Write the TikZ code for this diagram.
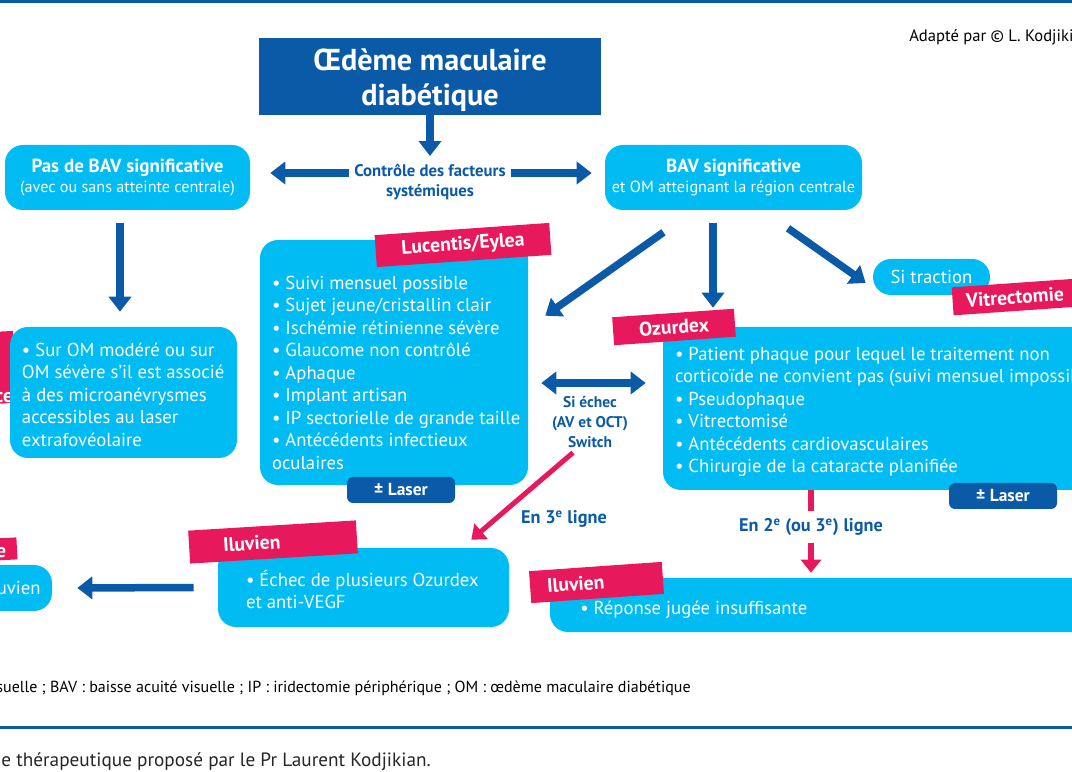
\documentclass[tikz,border=0pt]{standalone}
\usepackage{fontspec}
\setmainfont{PT Sans}
\usetikzlibrary{arrows.meta,positioning}
\definecolor{ciel}{HTML}{00BCF2}
\definecolor{marine}{HTML}{0A5AA8}
\definecolor{rose}{HTML}{E8185C}
\newlength\px \setlength\px{0.25mm}

\begin{document}
\begin{tikzpicture}[x=1\px, y=-1\px,
    box/.style={fill=ciel, rounded corners=18\px, inner sep=0pt, text=white},
    tag/.style={fill=rose, text=white, font=\bfseries\fontsize{14}{16}\selectfont, inner sep=0pt},
    lasertag/.style={fill=marine, text=white, font=\bfseries\fontsize{12.4}{14}\selectfont,
        minimum width=108\px, minimum height=26\px, rounded corners=6\px, inner sep=0pt},
    liste/.style={text=white, align=left, font=\fontsize{13.3}{16}\selectfont, inner sep=0pt, anchor=north west},
    etiq/.style={text=marine, align=center, font=\bfseries\fontsize{11.5}{14}\selectfont, inner sep=0pt},
    fleche/.style={draw=marine, line width=7.5\px, -{Triangle[width=5.5mm,length=3.75mm]}},
    rosefleche/.style={draw=rose, line width=5\px, -{Triangle[width=5mm,length=3.25mm]}},
]
    \useasboundingbox (0,0) rectangle (1072,772);
    \clip (0,0) rectangle (1072,772);

    % filets bleus
    \draw[marine, line width=3\px] (0,1.5) -- (1072,1.5);
    \draw[marine, line width=3\px] (0,727) -- (1072,727);

    \node[anchor=west, inner sep=0pt, font=\fontsize{11.8}{14}\selectfont] (credit) at (909,37) {Adapté par © L. Kodjikian};

    % haut
    \node[fill=marine, minimum width=342\px, minimum height=77\px] (titre) at (430,76.5) {};
    \node[text=white, align=center, inner sep=0pt, font=\bfseries\fontsize{21.5}{25}\selectfont]
        (titretxt) at ([yshift=-4\px]titre.center) {Œdème maculaire\\diabétique};
    \node[etiq, font=\bfseries\fontsize{11.9}{14}\selectfont] (ctrl) at (430,182) {Contrôle des facteurs\\systémiques};
    \node[box, minimum width=245\px, minimum height=65\px, align=center, font=\fontsize{11.5}{14}\selectfont]
        (pasbav) at (127.5,177.5) {{\bfseries\fontsize{13.5}{14}\selectfont Pas de BAV significative}\\(avec ou sans atteinte centrale)};
    \node[box, minimum width=257\px, minimum height=65\px, align=center, font=\fontsize{11.5}{14}\selectfont]
        (bav) at (733.5,177.5) {{\bfseries\fontsize{13.5}{14}\selectfont BAV significative}\\et OM atteignant la région centrale};

    \draw[fleche, shorten >=2mm] (titre.south) -- (ctrl.north);
    \draw[fleche, shorten <=1.25mm, shorten >=5mm] (ctrl.west |- 0,173) -- (pasbav.east |- 0,173);
    \draw[fleche, shorten <=1.25mm, shorten >=3.25mm] (ctrl.east |- 0,173) -- (bav.west |- 0,173);

    % gauche
    \node[fill=rose, minimum width=120\px, minimum height=72\px, rotate=3, inner sep=0pt] (tagce) at (-45,370) {};
    \node[text=white, font=\bfseries\fontsize{14}{16}\selectfont, inner sep=0pt] (tagcetxt) at (4,398) {ce};
    \node[box, minimum width=227\px, minimum height=131\px] (omod) at (123.5,392.5) {};
    \node[liste] (omodtxt) at ([xshift=12\px, yshift=-16\px]omod.north west)
        {• Sur OM modéré ou sur\\OM sévère s’il est associé\\à des microanévrysmes\\accessibles au laser\\extrafovéolaire};
    \draw[fleche, shorten <=3.25mm, shorten >=3.75mm] (pasbav.south -| 120,0) -- (omod.north -| 120,0);

    % Lucentis
    \node[box, minimum width=268\px, minimum height=245\px] (luc) at (394,362.5) {};
    \node[tag, minimum width=175\px, minimum height=32\px, rotate=4] (tagluc) at (463,245) {Lucentis/Eylea};
    \node[liste] (luctxt) at ([xshift=12\px, yshift=-36\px]luc.north west)
        {• Suivi mensuel possible\\• Sujet jeune/cristallin clair\\• Ischémie rétinienne sévère\\• Glaucome non contrôlé\\• Aphaque\\• Implant artisan\\• IP sectorielle de grande taille\\• Antécédents infectieux\\oculaires};
    \node[lasertag] (laserluc) at (401,490) {± Laser};

    % Ozurdex
    \node[box, minimum width=450\px, minimum height=163\px] (ozu) at (888,408.5) {};
    \node[tag, minimum width=122\px, minimum height=28\px, rotate=4] (tagozu) at (674,327) {Ozurdex};
    \node[liste] (ozutxt) at ([xshift=12\px, yshift=-20\px]ozu.north west)
        {• Patient phaque pour lequel le traitement non\\corticoïde ne convient pas (suivi mensuel impossible)\\• Pseudophaque\\• Vitrectomisé\\• Antécédents cardiovasculaires\\• Chirurgie de la cataracte planifiée};
    \node[lasertag] (laserozu) at (1003,496) {± Laser};

    % traction
    \node[box, minimum width=117\px, minimum height=36\px, font=\fontsize{13.3}{15}\selectfont] (traction) at (931.5,277) {Si traction};
    \node[tag, minimum width=125\px, minimum height=28\px, rotate=4] (tagvit) at (1015,297) {Vitrectomie};

    \draw[fleche] ([xshift=-70\px, yshift=-22\px]bav.south) -- ([xshift=17\px, yshift=-76\px]luc.north east);
    \draw[fleche, shorten >=4.75mm] ([xshift=-20.5\px, yshift=-13\px]bav.south) -- (ozu.north -| 713,0);
    \draw[fleche] ([xshift=54.5\px, yshift=-18\px]bav.south) -- ([xshift=-7\px, yshift=-6\px]traction.west);

    % switch
    \node[etiq, font=\bfseries\fontsize{11}{14}\selectfont] (switch) at (590,422) {Si échec\\(AV et OCT)\\Switch};
    \draw[fleche, {Triangle[width=5.5mm,length=3.75mm]}-{Triangle[width=5.5mm,length=3.75mm]},
        shorten <=3.25mm, shorten >=4.25mm] (luc.east |- 0,383) -- (ozu.west |- 0,383);

    % bas
    \node[box, minimum width=291\px, minimum height=79\px] (iluvmid) at (363.5,587.5) {};
    \node[tag, minimum width=168\px, minimum height=33\px, text width=100\px, align=left, rotate=3.5] (tagiluvmid) at (273,542) {Iluvien};
    \node[liste] (iluvmidtxt) at ([xshift=28\px, yshift=-22\px]iluvmid.north west) {• Échec de plusieurs Ozurdex\\et anti-VEGF};

    \node[box, minimum width=560\px, minimum height=54\px] (iluvright) at (830,605) {};
    \node[tag, minimum width=133\px, minimum height=32\px, text width=99\px, align=left, rotate=4] (tagiluvright) at (596.5,582.5) {Iluvien};
    \node[text=white, font=\fontsize{13.3}{16}\selectfont, inner sep=0pt, anchor=west] (iluvrighttxt) at (580,610) {• Réponse jugée insuffisante};

    \node[fill=rose, minimum width=100\px, minimum height=22\px, rotate=3, inner sep=0pt] (tagbas) at (-33,551) {};
    \node[text=white, font=\bfseries\fontsize{14}{16}\selectfont, inner sep=0pt] (tagbastxt) at (1,553) {e};
    \node[box, minimum width=112\px, minimum height=46\px] (iluvcut) at (-4,588) {};
    \node[text=white, font=\fontsize{13.3}{15}\selectfont, inner sep=0pt, anchor=east] (iluvcuttxt) at (41,588) {Iluvien};
    \draw[fleche, shorten <=6mm, shorten >=6.25mm] (iluvmid.west) -- (iluvcut.east);

    \node[etiq, font=\bfseries\fontsize{13}{14}\selectfont] (en3) at (564,519) {En 3\textsuperscript{e} ligne};
    \draw[rosefleche] ([xshift=-17\px, yshift=-5\px]switch.south) -- ([xshift=-38\px, yshift=8\px]iluvmid.north east);

    \node[etiq, font=\bfseries\fontsize{13}{14}\selectfont] (en2) at (811,527) {En 2\textsuperscript{e} (ou 3\textsuperscript{e}) ligne};
    \draw[draw=rose, line width=6\px] (ozu.south -| 811,0) -- ([yshift=7\px]en2.north -| 811,0);
    \draw[rosefleche, line width=6\px, shorten <=1.75mm, shorten >=1.25mm] (en2.south -| 811,0) -- (iluvright.north -| 811,0);

    % legendes
    \node[anchor=east, inner sep=0pt, font=\fontsize{11.4}{13}\selectfont] (abrev) at (691,688)
        {AV : acuité visuelle ; BAV : baisse acuité visuelle ; IP : iridectomie périphérique ; OM : œdème maculaire diabétique};
    \node[anchor=east, inner sep=0pt, text=black!85, font=\fontsize{13.7}{15}\selectfont] (figleg) at (431,762)
        {Algorithme thérapeutique proposé par le Pr Laurent Kodjikian.};
\end{tikzpicture}
\end{document}
